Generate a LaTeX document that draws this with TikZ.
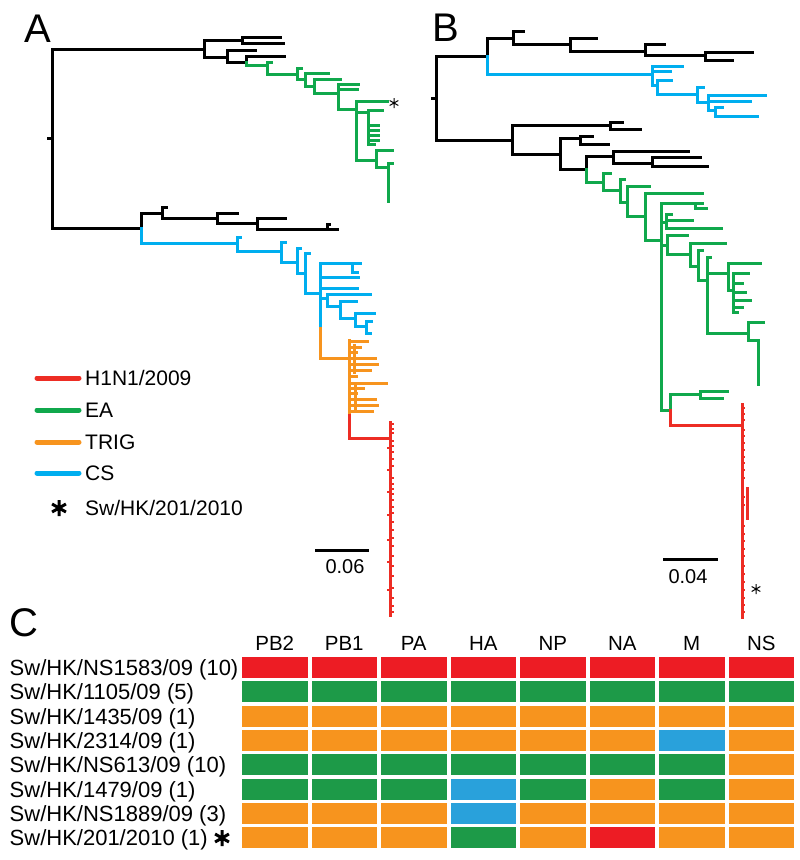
\documentclass[tikz,border=0pt]{standalone}
\usepackage{fontspec}
\setmainfont{Liberation Sans}
\definecolor{tred}{RGB}{237,45,36}
\definecolor{tgreen}{RGB}{16,168,76}
\definecolor{torange}{RGB}{247,148,30}
\definecolor{tblue}{RGB}{0,174,239}
\definecolor{cr}{RGB}{237,28,36}
\definecolor{cg}{RGB}{29,154,72}
\definecolor{co}{RGB}{247,148,30}
\definecolor{cb}{RGB}{41,161,219}

\begin{document}
\begin{tikzpicture}[
  x=1pt,
  y=-1pt,
  br/.style={line width=3pt,line cap=rect},
  blk/.style={br,draw=black},
  eag/.style={br,draw=tgreen},
  csb/.style={br,draw=tblue},
  trg/.style={br,draw=torange},
  pdm/.style={br,draw=tred},
  redtick/.style={line width=2pt,draw=tred},
  key/.style={line width=5pt,line cap=round},
  lab/.style={font=\fontsize{21}{25}\selectfont,inner sep=0pt,anchor=base west},
  hdr/.style={font=\fontsize{20.5}{24}\selectfont,inner sep=0pt,anchor=base},
  rowlab/.style={font=\fontsize{22}{26}\selectfont,inner sep=0pt,anchor=base west},
  panel/.style={font=\fontsize{40}{44}\selectfont,inner sep=0pt},
  scalebar/.style={line width=3pt},
  starmark/.pic={\draw (90:1)--(270:1) (30:1)--(210:1) (150:1)--(330:1);}
]
\path[fill=white,use as bounding box] (0,0) rectangle (800,860);

\node[panel] (pa) at (37.5,29) {A};
\node[panel] (pb) at (445.5,27.5) {B};
\node[panel] (pc) at (24,623) {C};

\draw[blk] (48,138) -- (52,138);
\foreach \px/\py/\cx/\cy in {52/138/204/49,52/138/141/228,204/49/242/40,242/40/280/37,
  242/40/283/43,204/49/227/57,227/57/255/50,227/57/246/62,246/62/284/56,141/228/162/213,
  162/213/166/207,162/213/217/218,217/218/237/213,217/218/257/223,257/223/285/218,
  257/223/337/229,327/229/329/224}
  \draw[blk] (\px,\py) |- (\cx,\cy);
\foreach \px/\py/\cx/\cy in {246/62/267/65,267/65/271/62,267/65/297/74,297/74/301/68,
  297/74/305/79,305/79/328/73,305/79/314/86,314/86/340/79,314/86/338/93,338/93/358/84,
  338/93/357/89,338/93/356/109,356/109/387/101,356/109/368/112,368/112/382/110,
  368/112/378/125,368/112/378/130,368/112/378/135,368/112/378/140,368/112/374/144,
  356/109/376/160,376/160/392/150,376/160/388/167,388/167/392/163,388/167/388/201}
  \draw[eag] (\px,\py) |- (\cx,\cy);
\foreach \px/\py/\cx/\cy in {141/228/237/243,237/243/240/237,237/243/281/251,281/251/285/242,
  281/251/297/262,297/262/300/248,297/262/305/273,305/273/309/253,305/273/320/293,
  320/293/360/263,352/263/357/272,320/293/358/277,320/293/357/288,320/293/327/298,
  327/298/370/294,327/298/340/306,340/306/356/301,340/306/355/318,355/318/374/313,
  355/318/366/326,366/326/371/321,366/326/370/333}
  \draw[csb] (\px,\py) |- (\cx,\cy);
\draw[trg] (320,325) -- (320,358) -- (349,358);
\draw[trg] (349,340) -- (349,415);
\draw[trg] (354,345) -- (354,372) (355,385) -- (355,410);
\foreach \y/\x in {341/367,347/360,352/356,358/375,364/377,370/370,376/356,383/386,
  388/363,393/356,399/375,405/377,411/372}
  \draw[trg] (349,\y) -- (\x,\y);
\draw[csb] (320,293) -- (320,325);
\draw[pdm] (349,415) -- (349,438) -- (390,438);
\draw[pdm] (390,422) -- (390,615);
\foreach \y in {424,429,433,441,446,452,459,466,478,484,489,494,500,507,513,522,530,
  538,546,556,566,576,588,598,606,612}
  \draw[redtick] (390,\y) -- (394,\y);
\foreach \y in {448,470,492,515,540,562,590}
  \draw[redtick] (387,\y) -- (390,\y);
\pic[line width=1pt,scale=5] at (394,103) {starmark};
\draw[scalebar] (315,550) -- (369,550);
\node[font=\fontsize{20}{24}\selectfont,inner sep=0pt] (sa) at (345,567) {0.06};

\draw[blk] (432,98) -- (436,98);
\foreach \px/\py/\cx/\cy in {436/98/487/56,436/98/512/140,487/56/513/38,513/38/523/31,
  513/38/570/44,570/44/596/38,570/44/645/51,645/51/664/44,645/51/705/55,705/55/752/52,
  705/55/732/60,512/140/610/125,610/125/622/122,610/125/640/129,512/140/560/154,
  560/154/580/138,580/138/592/136,580/138/608/144,560/154/586/169,586/169/613/156,
  613/156/688/151,613/156/652/163,652/163/700/157,652/163/707/166}
  \draw[blk] (\px,\py) |- (\cx,\cy);
\foreach \px/\py/\cx/\cy in {487/56/652/74,652/74/682/66,652/74/670/71,652/74/657/85,
  657/85/671/80,657/85/697/94,697/94/703/87,697/94/708/102,708/102/765/95,708/102/750/101,
  708/102/715/110,715/110/722/107,715/110/757/116}
  \draw[csb] (\px,\py) |- (\cx,\cy);
\foreach \px/\py/\cx/\cy in {586/169/603/182,603/182/610/173,603/182/620/190,620/190/624/179,
  620/190/627/202,627/202/649/186,627/202/645/216,645/216/702/193,645/216/661/240,
  661/240/702/203,695/203/706/208,661/240/666/222,666/222/671/214,666/222/692/220,
  666/222/721/228,661/240/667/245,667/245/687/235,667/245/690/254,690/254/725/243,
  690/254/698/266,698/266/702/250,698/266/707/280,707/280/710/257,707/280/728/273,
  728/273/760/263,728/273/733/290,733/290/748/273,733/290/742/283,733/290/745/292,
  733/290/750/300,733/290/742/307,733/290/737/312,707/280/748/333,748/333/763/322,
  748/333/758/340,758/340/758/384,661/240/670/410,670/410/700/394,700/394/727/391,
  700/394/722/398}
  \draw[eag] (\px,\py) |- (\cx,\cy);
\draw[pdm] (670,410) |- (742,425);
\draw[pdm] (742,404) -- (742,617);
\draw[pdm] (747,488) -- (747,518);
\foreach \y in {408,414,420,430,436,443,450,457,463,470,478,497,505,526,534,541,549,
  556,566,574,582,590,598,605,612}
  \draw[redtick] (742,\y) -- (745,\y);
\pic[line width=1pt,scale=5] at (756,589) {starmark};
\draw[scalebar] (663,559) -- (718,559);
\node[font=\fontsize{20}{24}\selectfont,inner sep=0pt] (sb) at (688,577) {0.04};

\draw[key,tred] (37,378) -- (79,378);
\draw[key,tgreen] (37,410) -- (79,410);
\draw[key,torange] (37,442) -- (79,442);
\draw[key,tblue] (37,473) -- (79,473);
\pic[line width=3pt,scale=8] at (59,508) {starmark};
\node[lab] (k1) at (85,385.5) {H1N1/2009};
\node[lab] (k2) at (85,417.5) {EA};
\node[lab] (k3) at (85,449.5) {TRIG};
\node[lab] (k4) at (85,480.5) {CS};
\node[lab] (k5) at (85,515.5) {Sw/HK/201/2010};

\foreach \g [count=\i from 0] in {PB2,PB1,PA,HA,NP,NA,M,NS}
  \node[hdr] (h\i) at ({274.75+69.5*\i},650) {\g};
\foreach \cols [count=\j from 0] in {{cr,cr,cr,cr,cr,cr,cr,cr},{cg,cg,cg,cg,cg,cg,cg,cg},
  {co,co,co,co,co,co,co,co},{co,co,co,co,co,co,cb,co},{cg,cg,cg,cg,cg,cg,cg,co},
  {cg,cg,cg,cb,cg,co,cg,co},{co,co,co,cb,co,co,co,co},{co,co,co,cg,co,cr,co,co}}
  \foreach \c [count=\i from 0] in \cols
    \path[fill=\c] ({242+69.5*\i},{657+24.35*\j}) rectangle ++(65.5,21);
\node[rowlab] (r1) at (9.5,675.4) {Sw/HK/NS1583/09 (10)};
\node[rowlab] (r2) at (9.5,699.7) {Sw/HK/1105/09 (5)};
\node[rowlab] (r3) at (9.5,724.1) {Sw/HK/1435/09 (1)};
\node[rowlab] (r4) at (9.5,748.4) {Sw/HK/2314/09 (1)};
\node[rowlab] (r5) at (9.5,772.8) {Sw/HK/NS613/09 (10)};
\node[rowlab] (r6) at (9.5,797.1) {Sw/HK/1479/09 (1)};
\node[rowlab] (r7) at (9.5,821.5) {Sw/HK/NS1889/09 (3)};
\node[rowlab] (r8) at (9.5,845.8) {Sw/HK/201/2010 (1)};
\pic[line width=3pt,scale=8] at (222,838) {starmark};
\end{tikzpicture}
\end{document}
